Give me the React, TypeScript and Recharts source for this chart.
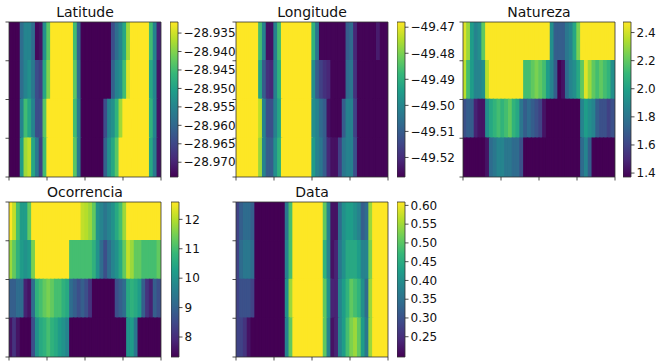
import React from 'react';
import { ComposedChart, XAxis, YAxis, ReferenceArea, Scatter } from 'recharts';

// ---------- data (4 rows x 40 columns per panel, top row first) ----------
const latitudeRows: number[][] = [
  [-28.974, -28.974, -28.974, -28.959, -28.955, -28.955, -28.959, -28.973, -28.972, -28.953,
   -28.943, -28.932, -28.932, -28.932, -28.932, -28.932, -28.932, -28.945, -28.961, -28.974,
   -28.974, -28.974, -28.974, -28.974, -28.974, -28.974, -28.974, -28.964, -28.959, -28.955,
   -28.949, -28.938, -28.932, -28.932, -28.932, -28.932, -28.932, -28.945, -28.955, -28.970],
  [-28.974, -28.974, -28.974, -28.959, -28.955, -28.953, -28.957, -28.964, -28.966, -28.949,
   -28.940, -28.932, -28.932, -28.932, -28.932, -28.932, -28.932, -28.943, -28.959, -28.974,
   -28.974, -28.974, -28.974, -28.974, -28.974, -28.974, -28.974, -28.961, -28.955, -28.953,
   -28.945, -28.934, -28.932, -28.932, -28.932, -28.932, -28.932, -28.949, -28.955, -28.972],
  [-28.974, -28.974, -28.974, -28.955, -28.945, -28.949, -28.955, -28.964, -28.964, -28.943,
   -28.932, -28.932, -28.932, -28.932, -28.932, -28.932, -28.932, -28.945, -28.957, -28.974,
   -28.974, -28.974, -28.974, -28.974, -28.974, -28.964, -28.955, -28.953, -28.947, -28.938,
   -28.932, -28.932, -28.932, -28.932, -28.932, -28.932, -28.932, -28.947, -28.955, -28.972],
  [-28.974, -28.974, -28.974, -28.951, -28.938, -28.936, -28.949, -28.957, -28.966, -28.945,
   -28.932, -28.932, -28.932, -28.932, -28.932, -28.932, -28.932, -28.943, -28.957, -28.974,
   -28.974, -28.974, -28.974, -28.974, -28.974, -28.961, -28.953, -28.949, -28.943, -28.932,
   -28.932, -28.932, -28.932, -28.932, -28.932, -28.932, -28.932, -28.949, -28.957, -28.972],
];

const longitudeRows: number[][] = [
  [-49.468, -49.468, -49.468, -49.468, -49.468, -49.468, -49.486, -49.501, -49.525, -49.525,
   -49.501, -49.486, -49.468, -49.468, -49.468, -49.468, -49.468, -49.468, -49.468, -49.468,
   -49.489, -49.504, -49.527, -49.527, -49.527, -49.527, -49.527, -49.527, -49.527, -49.510,
   -49.507, -49.521, -49.527, -49.527, -49.527, -49.527, -49.527, -49.523, -49.527, -49.527],
  [-49.468, -49.468, -49.468, -49.468, -49.468, -49.468, -49.492, -49.510, -49.519, -49.521,
   -49.501, -49.489, -49.468, -49.468, -49.468, -49.468, -49.468, -49.468, -49.468, -49.468,
   -49.498, -49.510, -49.516, -49.519, -49.521, -49.527, -49.527, -49.527, -49.527, -49.507,
   -49.504, -49.519, -49.527, -49.527, -49.527, -49.527, -49.527, -49.527, -49.527, -49.527],
  [-49.468, -49.468, -49.468, -49.468, -49.468, -49.468, -49.474, -49.501, -49.513, -49.513,
   -49.501, -49.492, -49.468, -49.468, -49.468, -49.468, -49.468, -49.468, -49.468, -49.468,
   -49.498, -49.501, -49.507, -49.510, -49.525, -49.527, -49.527, -49.527, -49.510, -49.501,
   -49.501, -49.516, -49.527, -49.527, -49.527, -49.527, -49.527, -49.527, -49.527, -49.527],
  [-49.468, -49.468, -49.468, -49.468, -49.468, -49.468, -49.477, -49.501, -49.510, -49.510,
   -49.498, -49.489, -49.468, -49.468, -49.468, -49.468, -49.468, -49.468, -49.468, -49.468,
   -49.495, -49.501, -49.504, -49.510, -49.521, -49.525, -49.525, -49.516, -49.504, -49.501,
   -49.501, -49.513, -49.527, -49.527, -49.527, -49.527, -49.527, -49.527, -49.527, -49.527],
];

const naturezaRows: number[][] = [
  [2.42, 2.31, 1.98, 1.87, 1.92, 2.20, 2.47, 2.47, 2.47, 2.47,
   2.47, 2.47, 2.47, 2.47, 2.47, 2.47, 2.47, 2.47, 2.47, 2.47,
   2.47, 2.47, 2.47, 1.92, 1.70, 1.70, 1.70, 1.81, 1.87, 2.03,
   2.25, 2.47, 2.47, 2.47, 2.47, 2.47, 2.47, 2.47, 2.47, 2.47],
  [2.36, 2.14, 1.98, 1.87, 1.87, 1.92, 2.36, 2.47, 2.47, 2.47,
   2.47, 2.47, 2.47, 2.47, 2.47, 2.47, 2.14, 2.14, 2.20, 2.25,
   2.20, 2.14, 1.98, 1.87, 1.70, 1.37, 1.43, 1.76, 1.87, 1.92,
   2.03, 2.20, 2.42, 2.31, 2.20, 2.14, 2.20, 2.14, 2.09, 1.92],
  [1.65, 1.70, 1.70, 1.48, 1.43, 1.43, 1.92, 2.03, 2.09, 2.14,
   2.09, 2.14, 2.20, 2.09, 2.03, 1.81, 1.70, 1.76, 1.70, 1.65,
   1.59, 1.43, 1.37, 1.37, 1.37, 1.37, 1.37, 1.37, 1.37, 1.37,
   1.37, 1.87, 1.98, 1.92, 1.87, 1.70, 1.65, 1.65, 1.59, 1.65],
  [1.37, 1.37, 1.37, 1.37, 1.37, 1.37, 1.43, 1.76, 1.81, 1.87,
   1.87, 1.81, 1.81, 1.76, 1.76, 1.65, 1.37, 1.37, 1.37, 1.37,
   1.37, 1.37, 1.37, 1.37, 1.37, 1.37, 1.37, 1.37, 1.37, 1.37,
   1.37, 1.76, 1.87, 1.70, 1.37, 1.37, 1.37, 1.37, 1.37, 1.37],
];

const ocorrenciaRows: number[][] = [
  [12.6, 12.1, 11.0, 10.2, 10.2, 11.3, 12.6, 12.6, 12.6, 12.6,
   12.6, 12.6, 12.6, 12.6, 12.6, 12.6, 12.6, 12.6, 12.6, 12.1,
   12.0, 11.8, 11.3, 10.0, 9.7, 9.4, 9.7, 10.0, 10.5, 11.0,
   11.8, 12.6, 12.6, 12.6, 12.6, 12.6, 12.6, 12.6, 12.6, 12.6],
  [11.8, 11.3, 10.7, 10.2, 10.0, 10.2, 11.5, 12.6, 12.6, 12.6,
   12.6, 12.6, 12.6, 12.6, 12.6, 12.6, 11.0, 11.0, 11.0, 11.0,
   11.0, 11.0, 10.7, 10.0, 9.2, 8.6, 9.2, 9.7, 10.0, 10.5,
   11.3, 12.1, 11.8, 11.3, 11.3, 11.0, 11.0, 11.0, 11.0, 11.3],
  [8.9, 8.9, 9.2, 9.2, 7.8, 7.6, 9.2, 10.7, 11.0, 11.3,
   11.5, 11.3, 11.0, 11.0, 10.7, 10.5, 9.2, 8.9, 8.6, 8.9,
   8.6, 8.1, 7.3, 7.3, 7.3, 7.3, 7.3, 7.3, 8.6, 8.9,
   9.2, 10.5, 10.7, 10.5, 10.2, 8.9, 8.1, 7.8, 8.9, 8.6],
  [7.6, 8.1, 7.6, 7.3, 7.3, 7.3, 8.6, 10.0, 10.5, 10.7,
   11.0, 10.7, 10.5, 10.2, 10.0, 9.7, 7.3, 7.3, 7.3, 7.3,
   7.3, 7.3, 7.3, 7.3, 7.3, 7.3, 7.3, 7.3, 7.3, 7.3,
   7.3, 10.0, 10.2, 9.4, 7.3, 7.3, 7.3, 7.3, 7.3, 7.3],
];

const dataRows: number[][] = [
  [0.279, 0.320, 0.341, 0.341, 0.320, 0.196, 0.196, 0.196, 0.196, 0.196,
   0.196, 0.196, 0.196, 0.361, 0.485, 0.609, 0.609, 0.609, 0.609, 0.609,
   0.609, 0.609, 0.609, 0.506, 0.382, 0.217, 0.217, 0.341, 0.403, 0.423,
   0.423, 0.403, 0.382, 0.320, 0.341, 0.547, 0.609, 0.609, 0.609, 0.609],
  [0.279, 0.341, 0.361, 0.361, 0.341, 0.196, 0.196, 0.196, 0.196, 0.196,
   0.196, 0.196, 0.196, 0.382, 0.485, 0.609, 0.609, 0.609, 0.609, 0.609,
   0.609, 0.609, 0.609, 0.464, 0.382, 0.217, 0.237, 0.361, 0.403, 0.444,
   0.444, 0.444, 0.423, 0.382, 0.382, 0.526, 0.609, 0.609, 0.609, 0.609],
  [0.279, 0.299, 0.299, 0.299, 0.279, 0.196, 0.196, 0.196, 0.196, 0.196,
   0.196, 0.196, 0.196, 0.403, 0.547, 0.609, 0.609, 0.609, 0.609, 0.609,
   0.609, 0.609, 0.609, 0.506, 0.403, 0.237, 0.237, 0.382, 0.423, 0.464,
   0.506, 0.485, 0.464, 0.403, 0.341, 0.547, 0.609, 0.609, 0.609, 0.609],
  [0.279, 0.279, 0.258, 0.217, 0.196, 0.196, 0.196, 0.196, 0.196, 0.196,
   0.196, 0.196, 0.196, 0.382, 0.506, 0.609, 0.609, 0.609, 0.609, 0.609,
   0.609, 0.609, 0.609, 0.506, 0.382, 0.217, 0.237, 0.382, 0.423, 0.485,
   0.526, 0.547, 0.506, 0.423, 0.361, 0.547, 0.609, 0.609, 0.609, 0.609],
];

const latitudeTicks = [-28.97, -28.965, -28.96, -28.955, -28.95, -28.945, -28.94, -28.935];
const longitudeTicks = [-49.52, -49.51, -49.5, -49.49, -49.48, -49.47];
const naturezaTicks = [1.4, 1.6, 1.8, 2.0, 2.2, 2.4];
const ocorrenciaTicks = [8, 9, 10, 11, 12];
const dataTicks = [0.25, 0.3, 0.35, 0.4, 0.45, 0.5, 0.55, 0.6];

const xTicks = [0, 10, 20, 30, 40];
const yTicks = [0, 1, 2, 3, 4];

// ---------- colour map ----------
const VIRIDIS = ['#440154', '#482878', '#3e4989', '#31688e', '#26828e', '#1f9e89', '#35b779', '#6ece58', '#b5de2b', '#fde725'];
const hex = (h: string) => [parseInt(h.slice(1, 3), 16), parseInt(h.slice(3, 5), 16), parseInt(h.slice(5, 7), 16)];
function viridis(t: number): string {
  const tt = Math.max(0, Math.min(1, t)) * (VIRIDIS.length - 1);
  const i = Math.min(VIRIDIS.length - 2, Math.floor(tt));
  const f = tt - i;
  const a = hex(VIRIDIS[i]);
  const b = hex(VIRIDIS[i + 1]);
  const c = a.map((v, k) => Math.round(v + (b[k] - v) * f));
  return `rgb(${c[0]},${c[1]},${c[2]})`;
}

const FONT = "'DejaVu Sans', sans-serif";
const minus = (s: string) => s.replace('-', '\u2212');

type Panel = {
  title: string;
  rows: number[][];
  domain: [number, number];
  ticks: number[];
  digits: number;
  left: number;
  top: number;
  barLeft: number;
};

const panels: Panel[] = [
  { title: 'Latitude', rows: latitudeRows, domain: [-28.974, -28.932], ticks: latitudeTicks, digits: 3, left: 9, top: 22, barLeft: 170 },
  { title: 'Longitude', rows: longitudeRows, domain: [-49.5275, -49.468], ticks: longitudeTicks, digits: 2, left: 236, top: 22, barLeft: 397 },
  { title: 'Natureza', rows: naturezaRows, domain: [1.372, 2.475], ticks: naturezaTicks, digits: 1, left: 463, top: 22, barLeft: 623 },
  { title: 'Ocorrencia', rows: ocorrenciaRows, domain: [7.32, 12.59], ticks: ocorrenciaTicks, digits: 0, left: 9, top: 202, barLeft: 171 },
  { title: 'Data', rows: dataRows, domain: [0.196, 0.609], ticks: dataTicks, digits: 2, left: 236, top: 202, barLeft: 397 },
];

const PW = 152;
const PH = 155;

function Heatmap({ p, idx }: { p: Panel; idx: number }) {
  const cells = p.rows.flatMap((row, r) => row.map((v, c) => ({ c, r, v })));
  const [lo, hi] = p.domain;
  const clipId = `hmclip${idx}`;
  return (
    <div style={{ position: 'absolute', left: p.left - 6, top: p.top - 4 }}>
      <ComposedChart width={PW + 10} height={PH + 10} margin={{ top: 4, right: 4, bottom: 0, left: 0 }}>
        <defs>
          <clipPath id={clipId}>
            <rect x={6} y={4} width={PW} height={PH} />
          </clipPath>
        </defs>
        <XAxis type="number" dataKey="c" domain={[0, 40]} ticks={xTicks} interval={0} allowDataOverflow
          height={6} tickSize={3.5} tickFormatter={() => ''} axisLine={false}
          tickLine={{ stroke: '#222', strokeWidth: 0.8 }} />
        <YAxis type="number" dataKey="r" domain={[0, 4]} ticks={yTicks} interval={0} allowDataOverflow reversed
          width={6} tickSize={3.5} tickFormatter={() => ''} axisLine={false}
          tickLine={{ stroke: '#222', strokeWidth: 0.8 }} />
        {cells.map((cell) => {
          const col = viridis((cell.v - lo) / (hi - lo));
          return (
            <ReferenceArea key={`${cell.r}-${cell.c}`} x1={cell.c} x2={cell.c + 1} y1={cell.r} y2={cell.r + 1}
              fill={col} fillOpacity={1} stroke={col} strokeWidth={1.3} strokeOpacity={1}
              ifOverflow="visible" clipPath={`url(#${clipId})`} />
          );
        })}
        <ReferenceArea x1={0} x2={40} y1={0} y2={4} fill="none" fillOpacity={0} stroke="#333" strokeWidth={0.8} ifOverflow="visible" />
        <Scatter data={cells} dataKey="r" isAnimationActive={false} shape={() => <g />} />
      </ComposedChart>
    </div>
  );
}

function Colorbar({ p, id }: { p: Panel; id: string }) {
  const [lo, hi] = p.domain;
  const pts = [{ x: 0, y: lo }, { x: 1, y: hi }];
  return (
    <div style={{ position: 'absolute', left: p.barLeft, top: p.top - 6 }}>
      <ComposedChart width={70} height={PH + 12} margin={{ top: 6, right: 0, bottom: 6, left: 0 }}>
        <defs>
          <linearGradient id={id} x1="0" y1="1" x2="0" y2="0">
            {VIRIDIS.map((c, i) => (
              <stop key={i} offset={i / (VIRIDIS.length - 1)} stopColor={c} />
            ))}
          </linearGradient>
        </defs>
        <XAxis type="number" dataKey="x" domain={[0, 1]} hide allowDataOverflow />
        <YAxis type="number" dataKey="y" orientation="right" domain={[lo, hi]} ticks={p.ticks} interval={0}
          allowDataOverflow width={62} tickSize={3.5} tickMargin={2} axisLine={false}
          tickLine={{ stroke: '#222', strokeWidth: 0.8 }}
          tick={{ fill: '#111', fontSize: 12, fontFamily: FONT }}
          tickFormatter={(v: number) => minus(v.toFixed(p.digits))} />
        <ReferenceArea x1={0} x2={1} y1={lo} y2={hi} fill={`url(#${id})`} fillOpacity={1} stroke="#333" strokeWidth={0.8} ifOverflow="visible" />
        <Scatter data={pts} dataKey="y" isAnimationActive={false} shape={() => <g />} />
      </ComposedChart>
    </div>
  );
}

export default function App() {
  return (
    <div style={{ position: 'absolute', left: 0, top: 0, width: 657, height: 362, background: '#fff', fontFamily: FONT, overflow: 'hidden' }}>
      {panels.map((p, i) => (
        <React.Fragment key={p.title}>
          <Heatmap p={p} idx={i} />
          <Colorbar p={p} id={`cbar${i}`} />
        </React.Fragment>
      ))}
      <svg width={657} height={362} style={{ position: 'absolute', left: 0, top: 0, pointerEvents: 'none' }}>
        {panels.map((p) => (
          <text key={p.title} x={p.left + PW / 2} y={p.top - 5} textAnchor="middle" fontSize={14} fontFamily={FONT} fill="#111">
            {p.title}
          </text>
        ))}
      </svg>
    </div>
  );
}
